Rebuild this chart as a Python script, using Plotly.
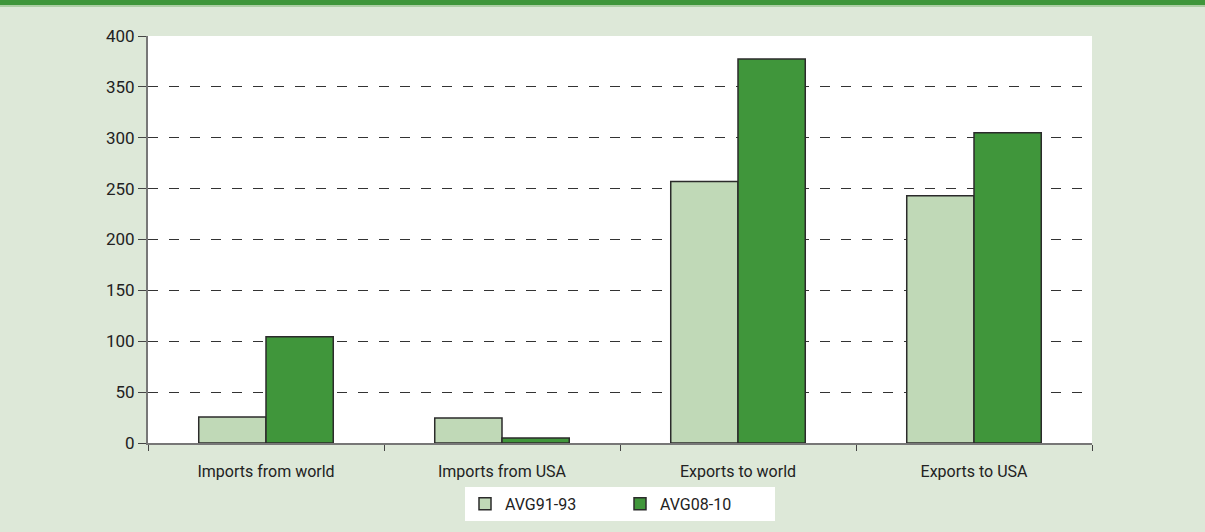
import plotly.graph_objects as go

categories = ["Imports from world", "Imports from USA", "Exports to world", "Exports to USA"]
avg91_93 = [25.5, 24.5, 257, 243]
avg08_10 = [104.5, 5, 377.5, 305]
series_names = ["AVG91-93", "AVG08-10"]
y_ticks = [0, 50, 100, 150, 200, 250, 300, 350, 400]

FONT = "Roboto, Liberation Sans, Arial, sans-serif"
BG = "#dde8d8"
LIGHT = "#c0d9b7"
DARK = "#40963b"
EDGE = "#2b2b2b"

fig = go.Figure()
fig.add_trace(go.Bar(x=categories, y=avg91_93, name=series_names[0],
                     marker=dict(color=LIGHT, line=dict(color=EDGE, width=1.5))))
fig.add_trace(go.Bar(x=categories, y=avg08_10, name=series_names[1],
                     marker=dict(color=DARK, line=dict(color=EDGE, width=1.5))))

fig.update_layout(
    width=1205, height=532,
    margin=dict(l=148, r=113, t=36, b=89, autoexpand=False),
    paper_bgcolor=BG, plot_bgcolor="white",
    barmode="group", bargap=0.43, bargroupgap=0,
    font=dict(family=FONT, size=16, color="#222222"),
    showlegend=True,
    legend=dict(orientation="h", x=0.5, xanchor="center", y=-0.108, yanchor="top",
                bgcolor="white", font=dict(size=16, family=FONT),
                entrywidth=110, itemwidth=30, traceorder="normal"),
    shapes=[
        dict(type="rect", xref="paper", yref="paper", x0=-0.2, x1=1.2,
             y0=1.0 + (36 - 5) / 407, y1=1.0 + 36 / 407 + 0.05,
             fillcolor="#3f963b", line=dict(width=0), layer="above"),
        dict(type="line", xref="paper", yref="paper", x0=-0.2, x1=1.2,
             y0=1.0 + (36 - 6) / 407, y1=1.0 + (36 - 6) / 407,
             line=dict(color="#9cc694", width=1.5), layer="above"),
    ],
)

fig.update_yaxes(range=[0, 400], tickvals=y_ticks, showgrid=True, automargin=False,
                 gridcolor="#333333", griddash="10px,11px", gridwidth=1,
                 showline=True, linecolor="#777777", linewidth=2,
                 ticks="outside", ticklen=8, tickcolor="#444444",
                 tickfont=dict(size=17), zeroline=False)
fig.update_xaxes(showline=True, linecolor="#777777", linewidth=2, automargin=False,
                 ticks="outside", tickson="boundaries", ticklen=6, tickcolor="#444444",
                 ticklabelstandoff=13,
                 tickfont=dict(size=16), showgrid=False)

fig.write_html("out.html", config={"displayModeBar": False},
               post_script="document.body.style.margin='0';document.body.style.padding='0';")
